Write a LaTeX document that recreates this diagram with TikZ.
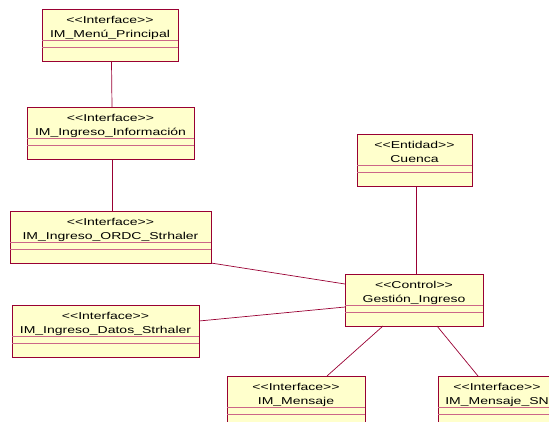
\documentclass[tikz,border=0pt]{standalone}
\usepackage{fontspec}
\newfontfamily\umlfont{Liberation Sans}[FakeStretch=1.4]
\usepackage{tikz}
\usetikzlibrary{shapes,positioning,calc}

\definecolor{umlred}{RGB}{153,0,51}
\definecolor{umlfill}{RGB}{255,255,204}
\definecolor{umlsplit}{RGB}{204,102,136}

\newcommand\stereo[1]{<\kern0pt<#1>\kern0pt>}
\newcommand\umlclass[2]{\rule{0pt}{13.5pt}\stereo{#1}\\#2\rule[-4pt]{0pt}{4pt}%
    \nodepart{two}\rule{0pt}{7pt}\nodepart{three}\rule{0pt}{10.5pt}}

\begin{document}
\begin{tikzpicture}[
    x=1pt, y=-1pt,
    classbox/.style={rectangle split, rectangle split parts=3,
        rectangle split draw splits=false, draw=umlred, fill=umlfill,
        line width=1pt, inner xsep=0pt, inner ysep=0pt, outer sep=0pt,
        text width=#1, align=center, anchor=north west,
        font=\umlfont\fontsize{10}{14}\selectfont},
    splitline/.style={draw=umlsplit, line width=0.6pt},
    assoc/.style={draw=umlred, line width=0.7pt}
]
    \useasboundingbox (0,0) rectangle (549,421);
    \clip (0,0) rectangle (549,421);

    % interfaces on the left
    \node [classbox=136] (menu)  at (42,9)   {\umlclass{Interface}{IM\_Menú\_Principal}};
    \node [classbox=167] (info)  at (27,107) {\umlclass{Interface}{IM\_Ingreso\_Información}};
    \node [classbox=201] (ordc)  at (10,211) {\umlclass{Interface}{IM\_Ingreso\_ORDC\_Strhaler}};
    \node [classbox=187] (datos) at (12,305) {\umlclass{Interface}{IM\_Ingreso\_Datos\_Strhaler}};

    % entity and control
    \node [classbox=115] (cuenca)  at (357,134) {\umlclass{Entidad}{Cuenca}};
    \node [classbox=138] (gestion) at (345,274) {\umlclass{Control}{Gestión\_Ingreso}};

    % message interfaces
    \node [classbox=138] (mensaje)   at (227,376) {\umlclass{Interface}{IM\_Mensaje}};
    \node [classbox=118] (mensajesn) at (438,376) {\umlclass{Interface}{IM\_Mensaje\_SN}};

    % compartment lines
    \foreach \n in {menu,info,ordc,datos,cuenca,gestion,mensaje,mensajesn}
        \draw [splitline] ([yshift=-31.5pt]\n.north west) -- ([yshift=-31.5pt]\n.north east)
                          ([yshift=-38.5pt]\n.north west) -- ([yshift=-38.5pt]\n.north east);

    % associations
    \draw [assoc] ([xshift=1.5pt]menu.south) -- ([xshift=1.5pt]info.north);
    \draw [assoc] ([xshift=1.5pt]info.south) -- ([xshift=1.5pt]ordc.north);
    \draw [assoc] (ordc.south east) -- ([yshift=-10pt]gestion.north west);
    \draw [assoc] ([yshift=-16pt]datos.north east) -- ([yshift=-33pt]gestion.north west);
    \draw [assoc] ([xshift=1.5pt]cuenca.south) -- ([xshift=1.5pt]cuenca.south |- gestion.north);
    \draw [assoc] ([xshift=38pt]gestion.south west) -- ([xshift=100pt]mensaje.north west);
    \draw [assoc] ([xshift=92pt]gestion.south west) -- ([xshift=40pt]mensajesn.north west);
\end{tikzpicture}
\end{document}
